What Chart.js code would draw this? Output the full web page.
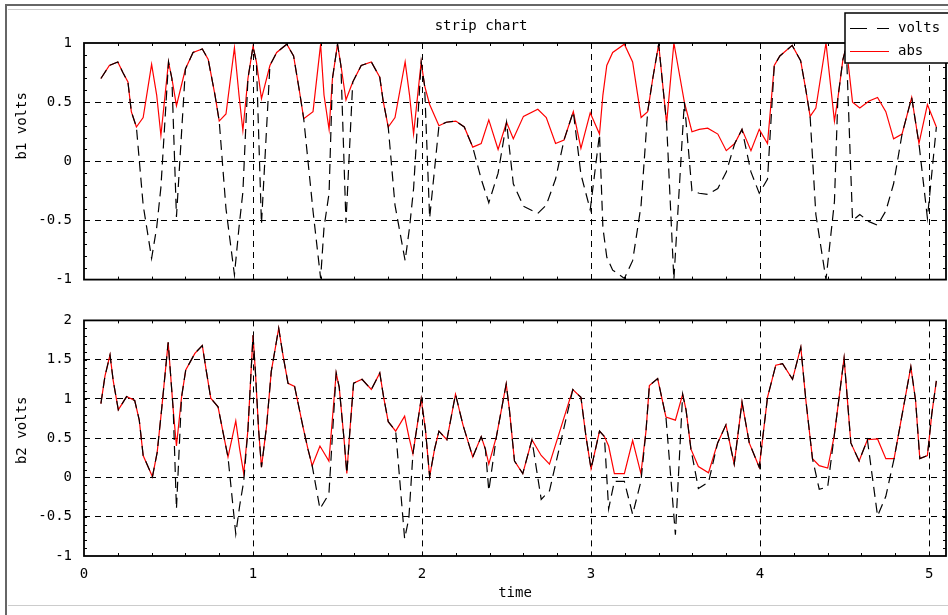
<!DOCTYPE html>
<html lang="en">
<head>
<meta charset="UTF-8">
<title>strip chart</title>
<script src="https://cdn.jsdelivr.net/npm/chart.js@4.4.0/dist/chart.umd.min.js"></script>
<style>
  body { margin: 0; background: #fff; }
  #wrap { position: relative; width: 948px; height: 615px; overflow: hidden; }
  canvas { position: absolute; left: 0; }
  .ln { position: absolute; }
</style>
</head>
<body>
<div id="wrap">
  <div class="ln" style="left:5px;top:4px;width:943px;height:2px;background:#666"></div>
  <div class="ln" style="left:8px;top:9px;width:940px;height:1px;background:#ccc"></div>
  <div class="ln" style="left:5px;top:4px;width:2px;height:611px;background:#666"></div>
  <div class="ln" style="left:8px;top:605px;width:940px;height:1px;background:#ccc"></div>
  <canvas id="top" width="948" height="300" style="top:0"></canvas>
  <canvas id="bottom" width="948" height="315" style="top:300px"></canvas>
</div>
<script>
const chartTitle = 'strip chart';
const xTitle = 'time';
const seriesNames = ['volts', 'abs'];
const xTicks = [0, 1, 2, 3, 4, 5];
const b1Ticks = [-1, -0.5, 0, 0.5, 1];
const b2Ticks = [-1, -0.5, 0, 0.5, 1, 1.5, 2];

// b1 panel
const b1Time = [0.10,0.15,0.20,0.23,0.26,0.28,0.31,0.35,0.40,0.43,
  0.455,0.50,0.52,0.547,0.60,0.645,0.70,0.735,0.775,0.80,
  0.84,0.89,0.917,0.94,0.97,1.00,1.02,1.05,1.10,1.14,
  1.20,1.24,1.275,1.30,1.355,1.40,1.42,1.45,1.47,1.50,
  1.52,1.55,1.59,1.64,1.70,1.75,1.77,1.80,1.84,1.90,
  1.926,1.95,1.995,2.015,2.045,2.10,2.143,2.20,2.25,2.30,
  2.35,2.395,2.45,2.50,2.54,2.60,2.685,2.735,2.79,2.84,
  2.895,2.94,2.995,3.05,3.07,3.093,3.128,3.197,3.246,3.276,
  3.296,3.335,3.365,3.40,3.447,3.49,3.552,3.597,3.64,3.69,
  3.75,3.80,3.85,3.893,3.946,3.995,4.044,4.084,4.117,4.19,
  4.24,4.27,4.296,4.33,4.39,4.44,4.46,4.49,4.51,4.547,
  4.59,4.645,4.695,4.744,4.79,4.84,4.897,4.94,4.99,5.043];
const b1Volts = [0.70,0.81,0.84,0.75,0.67,0.42,0.29,-0.37,-0.82,-0.56,
  -0.22,0.84,0.70,-0.47,0.78,0.92,0.95,0.86,0.56,0.34,
  -0.40,-0.96,-0.56,-0.26,0.70,0.97,0.84,-0.53,0.81,0.92,
  0.99,0.89,0.59,0.36,-0.42,-0.99,-0.56,-0.27,0.70,0.99,
  0.81,-0.52,0.67,0.81,0.84,0.71,0.51,0.29,-0.37,-0.84,
  -0.56,-0.23,0.84,0.64,-0.48,0.30,0.33,0.34,0.29,0.12,
  -0.15,-0.35,-0.10,0.33,-0.19,-0.38,-0.44,-0.37,-0.15,0.18,
  0.42,-0.11,-0.41,0.23,-0.56,-0.81,-0.92,-0.99,-0.84,-0.56,
  -0.37,0.42,0.70,0.99,0.32,-1.00,0.50,-0.25,-0.27,-0.28,
  -0.23,-0.09,0.15,0.27,-0.09,-0.27,-0.15,0.81,0.89,0.98,
  0.85,0.61,0.38,-0.45,-1.00,-0.34,0.53,0.86,0.97,-0.50,
  -0.45,-0.51,-0.54,-0.42,-0.19,0.23,0.54,0.15,-0.48,0.29];
const b1Abs = [0.70,0.81,0.84,0.75,0.67,0.42,0.29,0.37,0.82,0.56,
  0.22,0.84,0.70,0.47,0.78,0.92,0.95,0.86,0.56,0.34,
  0.40,0.96,0.56,0.26,0.70,0.97,0.84,0.53,0.81,0.92,
  0.99,0.89,0.59,0.36,0.42,0.99,0.56,0.27,0.70,0.99,
  0.81,0.52,0.67,0.81,0.84,0.71,0.51,0.29,0.37,0.84,
  0.56,0.23,0.84,0.64,0.48,0.30,0.33,0.34,0.29,0.12,
  0.15,0.35,0.10,0.33,0.19,0.38,0.44,0.37,0.15,0.18,
  0.42,0.11,0.41,0.23,0.56,0.81,0.92,0.99,0.84,0.56,
  0.37,0.42,0.70,0.99,0.32,1.00,0.50,0.25,0.27,0.28,
  0.23,0.09,0.15,0.27,0.09,0.27,0.15,0.81,0.89,0.98,
  0.85,0.61,0.38,0.45,1.00,0.34,0.53,0.86,0.97,0.50,
  0.45,0.51,0.54,0.42,0.19,0.23,0.54,0.15,0.48,0.29];

// b2 panel
const b2Time = [0.10,0.124,0.154,0.173,0.203,0.252,0.30,0.327,0.35,0.405,
  0.433,0.459,0.498,0.528,0.547,0.577,0.602,0.656,0.70,0.724,
  0.75,0.793,0.823,0.852,0.898,0.921,0.945,0.97,1.00,1.014,
  1.033,1.05,1.08,1.108,1.128,1.152,1.177,1.207,1.246,1.295,
  1.325,1.35,1.396,1.449,1.492,1.51,1.54,1.555,1.575,1.595,
  1.645,1.70,1.75,1.773,1.80,1.844,1.897,1.922,1.946,1.995,
  2.02,2.045,2.074,2.10,2.147,2.198,2.242,2.30,2.35,2.375,
  2.395,2.44,2.498,2.517,2.547,2.596,2.65,2.705,2.754,2.892,
  2.94,2.97,3.00,3.05,3.079,3.104,3.138,3.197,3.246,3.295,
  3.325,3.345,3.394,3.443,3.499,3.542,3.562,3.591,3.635,3.695,
  3.749,3.798,3.847,3.893,3.936,3.995,4.044,4.093,4.133,4.192,
  4.241,4.271,4.31,4.35,4.40,4.438,4.497,4.537,4.586,4.635,
  4.695,4.744,4.793,4.892,4.92,4.945,4.99,5.016,5.043];
const b2Volts = [0.94,1.29,1.56,1.23,0.86,1.03,0.98,0.73,0.28,0.01,
  0.32,0.86,1.72,0.86,-0.40,1.02,1.37,1.58,1.68,1.35,
  1.01,0.90,0.57,0.26,-0.72,-0.36,-0.05,0.61,1.81,1.35,
  0.61,0.13,0.65,1.35,1.60,1.90,1.56,1.20,1.16,0.65,
  0.36,0.15,-0.40,-0.21,1.33,1.15,0.45,0.05,0.65,1.20,
  1.25,1.12,1.33,1.02,0.71,0.59,-0.78,-0.52,0.30,1.00,
  0.61,0.01,0.36,0.59,0.48,1.06,0.67,0.26,0.52,0.36,
  -0.17,0.52,1.19,0.86,0.21,0.05,0.48,-0.28,-0.17,1.12,
  1.02,0.52,0.11,0.59,0.52,-0.40,-0.05,-0.05,-0.47,-0.05,
  0.59,1.17,1.26,0.77,-0.73,1.06,0.86,0.36,-0.14,-0.06,
  0.44,0.67,0.17,0.96,0.44,0.13,1.02,1.43,1.45,1.25,
  1.66,0.98,0.24,-0.15,-0.12,0.52,1.52,0.44,0.21,0.48,
  -0.49,-0.24,0.24,1.41,0.98,0.24,0.28,0.81,1.23];
const b2Abs = [0.94,1.29,1.56,1.23,0.86,1.03,0.98,0.73,0.28,0.01,
  0.32,0.86,1.72,0.86,0.40,1.02,1.37,1.58,1.68,1.35,
  1.01,0.90,0.57,0.26,0.72,0.36,0.05,0.61,1.81,1.35,
  0.61,0.13,0.65,1.35,1.60,1.90,1.56,1.20,1.16,0.65,
  0.36,0.15,0.40,0.21,1.33,1.15,0.45,0.05,0.65,1.20,
  1.25,1.12,1.33,1.02,0.71,0.59,0.78,0.52,0.30,1.00,
  0.61,0.01,0.36,0.59,0.48,1.06,0.67,0.26,0.52,0.36,
  0.17,0.52,1.19,0.86,0.21,0.05,0.48,0.28,0.17,1.12,
  1.02,0.52,0.11,0.59,0.52,0.40,0.05,0.05,0.47,0.05,
  0.59,1.17,1.26,0.77,0.73,1.06,0.86,0.36,0.14,0.06,
  0.44,0.67,0.17,0.96,0.44,0.13,1.02,1.43,1.45,1.25,
  1.66,0.98,0.24,0.15,0.12,0.52,1.52,0.44,0.21,0.48,
  0.49,0.24,0.24,1.41,0.98,0.24,0.28,0.81,1.23];

const FONT = { family: 'DejaVu Sans Mono', size: 14 };
Chart.defaults.font.family = FONT.family;
Chart.defaults.font.size = FONT.size;
Chart.defaults.color = '#000';

const pts = (xs, ys) => xs.map((x, i) => ({ x: x, y: ys[i] }));
const clear = 'rgba(0,0,0,0)';

// frame round the plot area + small inward ticks (0.2 on x, 0.1 on y)
const frame = {
  id: 'frame',
  afterDraw(chart, args, opts) {
    const { ctx, chartArea: a, scales } = chart;
    ctx.save();
    ctx.strokeStyle = '#000';
    ctx.lineWidth = 1;
    ctx.beginPath();
    for (let i = 1; i * 0.2 < scales.x.max; i++) {
      const x = Math.round(scales.x.getPixelForValue(i * 0.2)) + 0.5;
      ctx.moveTo(x, a.top); ctx.lineTo(x, a.top + 3);
      ctx.moveTo(x, a.bottom); ctx.lineTo(x, a.bottom - 3);
    }
    const ys = scales.y;
    const n = Math.round((ys.max - ys.min) * 10);
    for (let i = 1; i < n; i++) {
      const y = Math.round(ys.getPixelForValue(ys.min + i * 0.1)) + 0.5;
      ctx.moveTo(a.left, y); ctx.lineTo(a.left + 3, y);
      ctx.moveTo(a.right, y); ctx.lineTo(a.right - 3, y);
    }
    ctx.stroke();
    ctx.lineWidth = 1.8;
    ctx.strokeRect(a.left, a.top, a.right - a.left, a.bottom - a.top);

    // y axis title, set a little above the panel middle as in the original
    ctx.font = FONT.size + 'px ' + FONT.family;
    ctx.fillStyle = '#000';
    ctx.textAlign = 'center';
    ctx.textBaseline = 'middle';
    ctx.translate(22, ys.getPixelForValue(opts.at));
    ctx.rotate(-Math.PI / 2);
    ctx.fillText(opts.text, 0, 0);
    ctx.restore();
  }
};

// title and boxed legend on the top panel
const header = {
  id: 'header',
  afterDraw(chart) {
    const ctx = chart.ctx;
    ctx.save();
    ctx.font = FONT.size + 'px ' + FONT.family;
    ctx.fillStyle = '#000';
    ctx.textBaseline = 'middle';
    ctx.textAlign = 'center';
    ctx.fillText(chartTitle, 481, 26);

    ctx.fillStyle = '#fff';
    ctx.fillRect(845, 13, 120, 50);
    ctx.strokeStyle = '#000';
    ctx.lineWidth = 1.5;
    ctx.strokeRect(845, 13, 120, 50);
    chart.data.datasets.forEach((ds, i) => {
      const y = 28 + i * 23;
      ctx.strokeStyle = ds.borderColor;
      ctx.lineWidth = 1.2;
      ctx.setLineDash(ds.borderDash ? [17, 10] : []);
      ctx.beginPath();
      ctx.moveTo(850, y + 0.5); ctx.lineTo(889, y + 0.5);
      ctx.stroke();
      ctx.setLineDash([]);
      ctx.fillStyle = '#000';
      ctx.textAlign = 'left';
      ctx.fillText(ds.label, 898, y);
    });
    ctx.restore();
  }
};

function makePanel(id, time, volts, abs, yTicks, yLabel, labelAt, isBottom) {
  const ctx = document.getElementById(id).getContext('2d');
  return new Chart(ctx, {
    type: 'line',
    data: {
      datasets: [
        { label: seriesNames[0], data: pts(time, volts), borderColor: '#000', borderWidth: 1.2,
          borderDash: [10, 6], pointRadius: 0, tension: 0 },
        { label: seriesNames[1], data: pts(time, abs), borderColor: '#ff0000', borderWidth: 1.2,
          pointRadius: 0, tension: 0 }
      ]
    },
    options: {
      responsive: false,
      animation: false,
      layout: { padding: isBottom ? { left: 0, right: 2, top: 14, bottom: 7 }
                                  : { left: 0, right: 2, top: 43, bottom: 13 } },
      plugins: {
        legend: { display: false },
        tooltip: { enabled: false },
        frame: { text: yLabel, at: labelAt }
      },
      scales: {
        x: {
          type: 'linear', min: 0, max: 5.1,
          afterBuildTicks: s => { s.ticks = xTicks.map(v => ({ value: v })); },
          afterFit: s => { s.height = isBottom ? 52 : 0; },
          ticks: { display: isBottom, padding: 10, maxRotation: 0, callback: v => v },
          grid: { drawTicks: false, lineWidth: 1,
                  color: c => (c.tick && c.tick.value > 0) ? '#000' : clear },
          border: { display: false, dash: [6, 5] },
          title: { display: isBottom, text: xTitle, padding: { top: 0, bottom: 6 } }
        },
        y: {
          min: yTicks[0], max: yTicks[yTicks.length - 1],
          afterBuildTicks: s => { s.ticks = yTicks.map(v => ({ value: v })); },
          afterFit: s => { s.width = 84; },
          ticks: { padding: 12, callback: v => v },
          grid: { drawTicks: false, lineWidth: 1,
                  color: c => (c.tick && c.tick.value > yTicks[0] && c.tick.value < yTicks[yTicks.length - 1]) ? '#000' : clear },
          border: { display: false, dash: [6, 5] }
        }
      }
    },
    plugins: isBottom ? [frame] : [frame, header]
  });
}

makePanel('top', b1Time, b1Volts, b1Abs, b1Ticks, 'b1 volts', 0.3, false);
makePanel('bottom', b2Time, b2Volts, b2Abs, b2Ticks, 'b2 volts', 0.6, true);
</script>
</body>
</html>
